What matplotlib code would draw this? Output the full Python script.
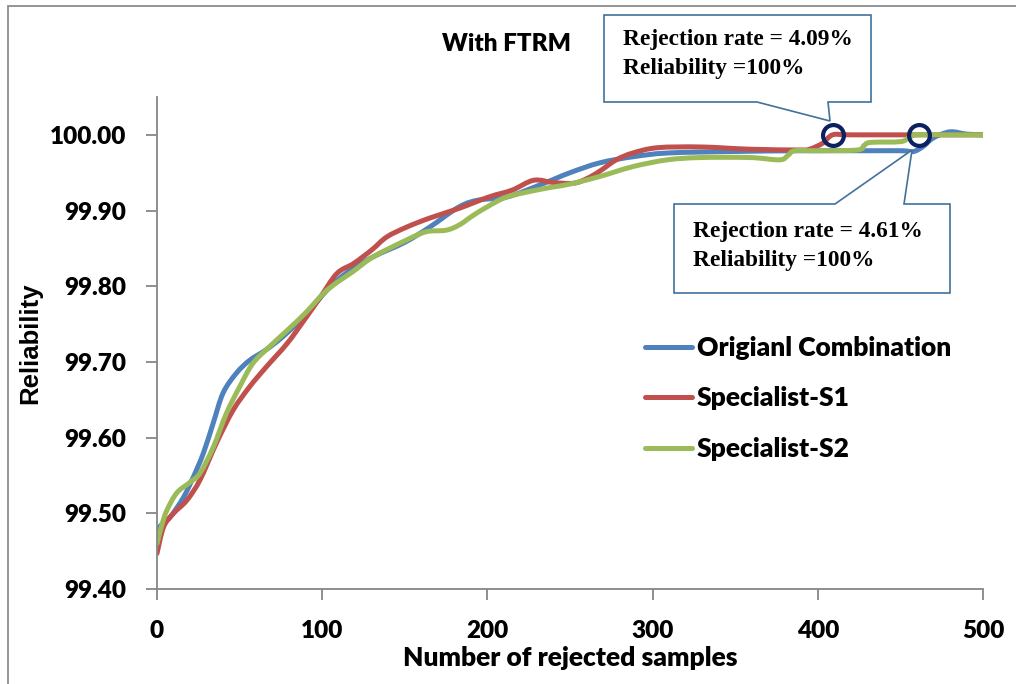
import numpy as np
import matplotlib.pyplot as plt
from matplotlib.patches import Polygon, Rectangle, PathPatch
from matplotlib.path import Path
from matplotlib.lines import Line2D

# reliability vs number of rejected samples, three classifier setups
orig_x = [0, 4, 8, 16, 22, 28, 34, 40, 48, 56, 66, 76, 90, 103, 115, 131, 150, 165, 183, 195,
          212, 232, 250, 268, 288, 309, 349, 389, 430, 451, 458, 464, 470, 480, 490, 500]
orig_y = [99.478, 99.488, 99.495, 99.521, 99.548, 99.579, 99.619, 99.659, 99.685, 99.702,
          99.716, 99.733, 99.762, 99.795, 99.818, 99.839, 99.858, 99.878, 99.905, 99.914,
          99.918, 99.934, 99.950, 99.963, 99.971, 99.976, 99.978, 99.979, 99.979, 99.979,
          99.978, 99.985, 99.996, 100.004, 100.001, 100.0]

s1_x = [0, 4, 10, 18, 26, 36, 46, 56, 66, 79, 90, 99, 109, 119, 130, 139, 151, 165, 183, 201,
        215, 228, 240, 252, 260, 268, 278, 288, 303, 329, 359, 389, 395, 403, 409, 420, 460, 500]
s1_y = [99.447, 99.482, 99.500, 99.517, 99.544, 99.593, 99.636, 99.667, 99.693, 99.725,
        99.758, 99.786, 99.817, 99.830, 99.848, 99.865, 99.878, 99.890, 99.903, 99.918,
        99.927, 99.940, 99.937, 99.936, 99.942, 99.952, 99.967, 99.976, 99.983, 99.984,
        99.981, 99.980, 99.981, 99.989, 100.0, 100.0, 100.0, 100.0]

s2_x = [0, 3, 6, 12, 20, 26, 34, 42, 50, 58, 68, 79, 90, 103, 119, 131, 151, 163, 175, 183,
        191, 200, 212, 232, 250, 268, 288, 309, 329, 359, 377, 382, 386, 400, 424, 428, 432,
        450, 455, 460, 480, 500]
s2_y = [99.460, 99.485, 99.504, 99.527, 99.541, 99.553, 99.587, 99.632, 99.667, 99.698,
        99.720, 99.742, 99.765, 99.795, 99.820, 99.839, 99.861, 99.872, 99.874, 99.881,
        99.893, 99.905, 99.918, 99.928, 99.935, 99.945, 99.958, 99.967, 99.970, 99.970,
        99.967, 99.973, 99.979, 99.979, 99.980, 99.986, 99.990, 99.991, 99.996, 100.0,
        100.0, 100.0]

labels = ['Origianl Combination', 'Specialist-S1', 'Specialist-S2']
colors = ['#4F81BD', '#C0504D', '#9BBB59']

# rejection rate (%) where S1 / S2 first reach 100 % reliability
reject_rates = [4.09, 4.61]
total_samples = 10000

W, H = 1016, 684
FONT = dict(family='Lato', weight='heavy', size=17.5)
BIG = dict(family='Lato', weight='heavy', size=19)


def px(x, y):
    return (x / W, 1 - y / H)


def smooth_path(xs, ys):
    # cubic bezier through the points (catmull-rom style), like a smoothed line
    p = np.column_stack([xs, ys]).astype(float)
    verts = [p[0]]
    codes = [Path.MOVETO]
    n = len(p)
    for i in range(n - 1):
        p0 = p[i - 1] if i > 0 else p[i]
        p1, p2 = p[i], p[i + 1]
        p3 = p[i + 2] if i + 2 < n else p[i + 1]
        verts += [p1 + (p2 - p0) / 6, p2 - (p3 - p1) / 6, p2]
        codes += [Path.CURVE4] * 3
    return Path(verts, codes)


fig = plt.figure(figsize=(W / 100, H / 100), dpi=100)
ax = fig.add_axes([157 / W, 1 - 589 / H, (983 - 157) / W, (589 - 97) / H])

handles = []
for xs, ys, lab, col in zip([orig_x, s1_x, s2_x], [orig_y, s1_y, s2_y], labels, colors):
    ax.add_patch(PathPatch(smooth_path(xs, ys), fill=False, ec=col, lw=3.6,
                           joinstyle='round', capstyle='round'))
    handles.append(Line2D([], [], color=col, lw=3.6, solid_capstyle='round', label=lab))

circ_x = [r / 100 * total_samples for r in reject_rates]
ax.plot(circ_x, [100.0] * len(circ_x), 'o', ms=15, mfc='none', mec='#0B2160',
        mew=3.0, zorder=5)

ax.set_xlim(0, 500)
ax.set_ylim(99.40, 100.05)
ax.set_xticks(np.arange(0, 501, 100))
ax.set_yticks(np.arange(99.40, 100.001, 0.10))
ax.yaxis.set_major_formatter(plt.FormatStrFormatter('%.2f'))

for s in ['top', 'right']:
    ax.spines[s].set_visible(False)
for s in ['left', 'bottom']:
    ax.spines[s].set_color('#868686')
    ax.spines[s].set_linewidth(1.3)
ax.tick_params(direction='out', length=8, width=1.3, color='#868686')
ax.tick_params(axis='y', pad=14)
ax.tick_params(axis='x', pad=14)
for t in ax.get_xticklabels() + ax.get_yticklabels():
    t.set_fontfamily(FONT['family'])
    t.set_fontweight(FONT['weight'])
    t.set_fontsize(FONT['size'])

ax.set_xlabel('Number of rejected samples', fontdict=BIG, labelpad=3)
fig.text(30 / W, 1 - 343 / H, 'Reliability', family='Liberation Sans', weight='bold',
         fontsize=18.5, rotation=90, ha='center', va='center')
fig.text(506 / W, 1 - 44 / H, 'With FTRM', fontdict=FONT, ha='center', va='center')

leg = ax.legend(handles=handles, loc='upper left', bbox_to_anchor=px(645, 336),
                bbox_transform=fig.transFigure, frameon=False, handlelength=1.77,
                handletextpad=0.19, labelspacing=1.0, borderaxespad=0, borderpad=0,
                prop=BIG)

# callout boxes
box_col = '#41719C'
callouts = [
    ([(604, 15), (871, 15), (871, 102), (828, 102), (830, 121), (757, 102), (604, 102)],
     (623, 45), 'Rejection rate = %.2f%%' % reject_rates[0]),
    ([(674, 204), (835, 204), (912, 150), (904, 204), (950, 204), (950, 293), (674, 293)],
     (693, 237), 'Rejection rate = %.2f%%' % reject_rates[1]),
]
for pts, (tx, ty), txt in callouts:
    poly = Polygon([px(a, b) for a, b in pts], closed=True, transform=fig.transFigure,
                   fc='white', ec=box_col, lw=1.2, zorder=10)
    fig.add_artist(poly)
    fig.text(*px(tx, ty), txt, family='Liberation Serif', weight='bold', fontsize=16.8,
             va='baseline', zorder=11)
    fig.text(*px(tx, ty + 29), 'Reliability =100%', family='Liberation Serif',
             weight='bold', fontsize=16.8, va='baseline', zorder=11)

# chart area frame
fig.add_artist(Rectangle(px(8, 700), (1030 - 8) / W, (700 - 6) / H,
                         transform=fig.transFigure, fill=False, ec='#8C8C8C', lw=1.3))

fig.savefig('out.png', dpi=100)
